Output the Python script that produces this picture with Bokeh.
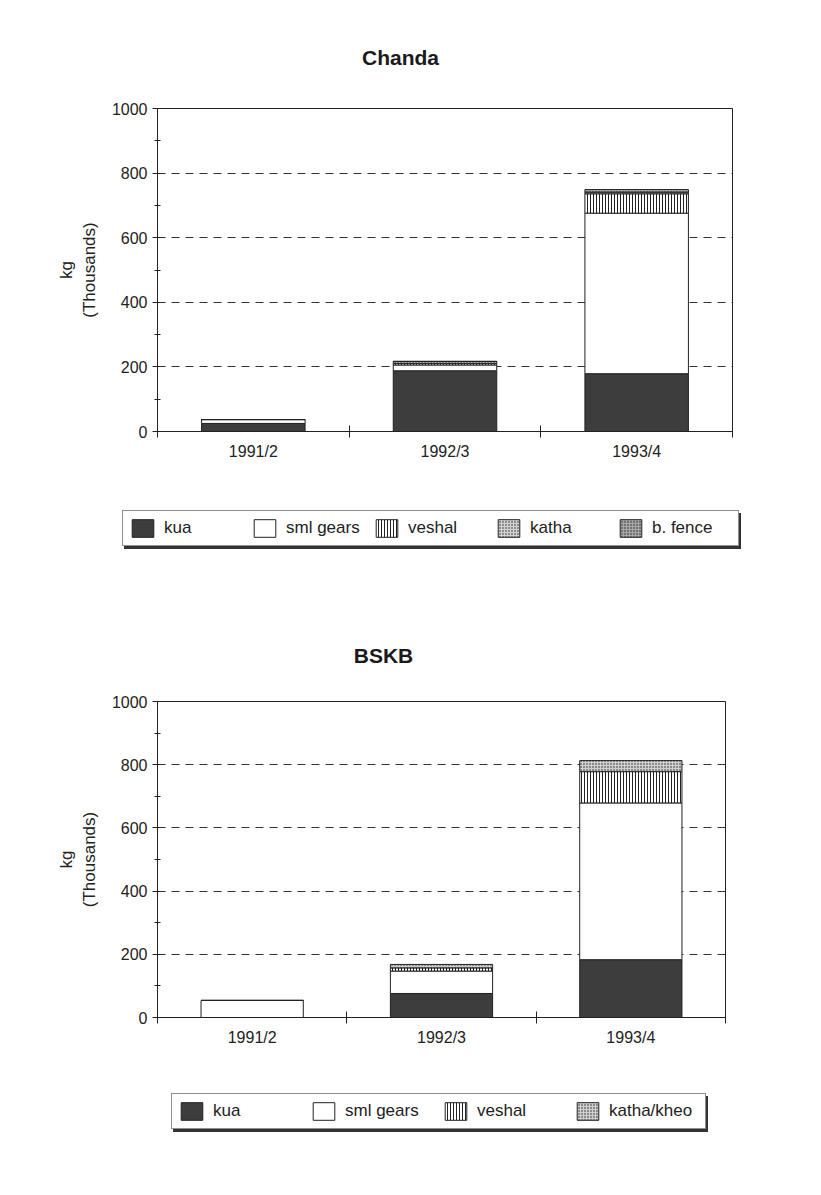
from bokeh.plotting import figure
from bokeh.layouts import column
from bokeh.models import (FactorRange, Range1d, LinearAxis, FixedTicker,
                          SingleIntervalTicker, Legend, LegendItem, Label)
from bokeh.embed import file_html
from bokeh.resources import INLINE

# ---------------- data ----------------
years = ["1991/2", "1992/3", "1993/4"]

chanda_title = "Chanda"
chanda_series = ["kua", "sml gears", "veshal", "katha", "b. fence"]
chanda_kua = [25, 188, 179]
chanda_sml_gears = [12, 18, 497]
chanda_veshal = [0, 5, 60]
chanda_katha = [0, 6, 5]
chanda_b_fence = [0, 0, 8]

bskb_title = "BSKB"
bskb_series = ["kua", "sml gears", "veshal", "katha/kheo"]
bskb_kua = [0, 76, 183]
bskb_sml_gears = [54, 71, 496]
bskb_veshal = [0, 10, 99]
bskb_katha_kheo = [0, 11, 35]

y_label = "kg\n(Thousands)"

# ---------------- styles ----------------
FONT = "Liberation Sans"
INK = "#222222"
W = 813
NAN = float("nan")
STYLE = {
    "kua": dict(fill_color="#3d3d3d", hatch_pattern=None),
    "sml gears": dict(fill_color="#ffffff", hatch_pattern=None),
    "veshal": dict(fill_color="#ffffff", hatch_pattern="vertical_line"),
    "katha": dict(fill_color="#d4d4d4", hatch_pattern="dot"),
    "katha/kheo": dict(fill_color="#d0d0d0", hatch_pattern="dot"),
    "b. fence": dict(fill_color="#a8a8a8", hatch_pattern="dot"),
}
HATCH = dict(hatch_color=INK, hatch_scale=3, hatch_weight=1,
             line_color=INK, line_width=1)


def blank_figure(height):
    f = figure(width=W, height=height, x_range=Range1d(0, W),
               y_range=Range1d(0, height), output_backend="svg",
               toolbar_location=None, x_axis_location=None,
               y_axis_location=None, min_border=0, frame_align=False)
    f.outline_line_color = None
    f.xgrid.visible = False
    f.ygrid.visible = False
    f.background_fill_color = "white"
    f.border_fill_color = "white"
    return f


def title_figure(text, height, cx, cy):
    f = blank_figure(height)
    f.add_layout(Label(x=cx, y=height - cy, text=text, text_align="center",
                       text_baseline="middle", text_font=FONT,
                       text_font_size="21px", text_font_style="bold",
                       text_color="#1a1a1a"))
    return f


def legend_figure(series, height, left, bottom_from_top, label_width):
    f = blank_figure(height)
    # legend-only renderers: one undefined (NaN) bar, nothing is drawn
    ghost = f.vbar(x=[NAN], top=[NAN], bottom=[NAN], width=1,
                   fill_alpha=0, line_alpha=0)
    items = []
    for s in series:
        r = f.vbar(x=[NAN], top=[NAN], bottom=[NAN], width=1,
                   fill_color=STYLE[s]["fill_color"],
                   hatch_pattern=STYLE[s]["hatch_pattern"], **HATCH)
        items.append(LegendItem(label=s, renderers=[r]))
    common = dict(orientation="horizontal", glyph_width=27, glyph_height=22,
                  label_standoff=8, label_width=label_width, spacing=7,
                  padding=6, margin=0, label_text_font=FONT,
                  label_text_font_size="17px", border_line_width=1)
    vy = height - bottom_from_top
    # drop shadow of the legend box (same size, no visible labels)
    shadow = Legend(items=[LegendItem(label=" ", renderers=[ghost]) for _ in series],
                    location=(left + 2, vy - 3), border_line_color="#333333",
                    background_fill_color="#333333", background_fill_alpha=1,
                    label_text_alpha=0, **common)
    main = Legend(items=items, location=(left, vy), border_line_color=INK,
                  background_fill_color="white", background_fill_alpha=1,
                  label_text_color=INK, **common)
    f.add_layout(shadow, "center")
    f.add_layout(main, "center")
    return f


def make_chart(series, values, height, border):
    data = {"year": years}
    for s, v in zip(series, values):
        data[s] = v
    top, bottom, left, right = border
    p = figure(x_range=FactorRange(*years), y_range=Range1d(0, 1000),
               width=W, height=height, output_backend="svg",
               toolbar_location=None, x_axis_location=None,
               min_border_top=top, min_border_bottom=bottom,
               min_border_left=left, min_border_right=right,
               frame_align=False)
    p.x_range.range_padding = 0
    p.background_fill_color = "white"
    p.border_fill_color = "white"
    p.outline_line_color = INK
    p.outline_line_width = 1

    p.vbar_stack(series, x="year", width=0.54, source=data,
                 fill_color=[STYLE[s]["fill_color"] for s in series],
                 hatch_pattern=[STYLE[s]["hatch_pattern"] for s in series],
                 **HATCH)

    ya = p.yaxis[0]
    ya.ticker = SingleIntervalTicker(interval=200, num_minor_ticks=2)
    ya.axis_label = y_label
    ya.axis_label_text_font = FONT
    ya.axis_label_text_font_style = "normal"
    ya.axis_label_text_font_size = "17px"
    ya.axis_label_text_color = INK
    ya.axis_label_standoff = 10
    ya.major_label_text_font = FONT
    ya.major_label_text_font_size = "16px"
    ya.major_label_text_color = INK
    ya.major_label_standoff = 5
    ya.major_tick_out = 5
    ya.major_tick_in = 0
    ya.minor_tick_out = 3
    ya.minor_tick_in = 3
    ya.axis_line_color = INK
    ya.major_tick_line_color = INK
    ya.minor_tick_line_color = INK

    p.ygrid.ticker = SingleIntervalTicker(interval=200)
    p.ygrid.grid_line_color = "#333333"
    p.ygrid.grid_line_dash = "8 6"
    p.ygrid.grid_line_width = 1
    p.xgrid.visible = False

    n = len(years)
    xa = LinearAxis(
        ticker=FixedTicker(ticks=[i + 0.5 for i in range(n)],
                           minor_ticks=list(range(n + 1))),
        major_label_overrides={i + 0.5: y for i, y in enumerate(years)},
        major_tick_line_color=None, major_tick_out=0, major_tick_in=0,
        minor_tick_in=6, minor_tick_out=6, minor_tick_line_color=INK,
        axis_line_color=INK, major_label_text_font=FONT,
        major_label_text_font_size="16px", major_label_text_color=INK,
        major_label_standoff=5)
    p.add_layout(xa, "below")
    return p


t1 = title_figure(chanda_title, 100, 400, 57)
p1 = make_chart(chanda_series,
                [chanda_kua, chanda_sml_gears, chanda_veshal, chanda_katha, chanda_b_fence],
                380, (8, 49, 157, 81))
l1 = legend_figure(chanda_series, 120, 122, 66, 80)

t2 = title_figure(bskb_title, 90, 383, 55)
p2 = make_chart(bskb_series,
                [bskb_kua, bskb_sml_gears, bskb_veshal, bskb_katha_kheo],
                376, (11, 49, 157, 88))
l2 = legend_figure(bskb_series, 109, 171, 63, 90)

layout = column(t1, p1, l1, t2, p2, l2, spacing=0)
open("out.html", "w").write(file_html(layout, INLINE))
